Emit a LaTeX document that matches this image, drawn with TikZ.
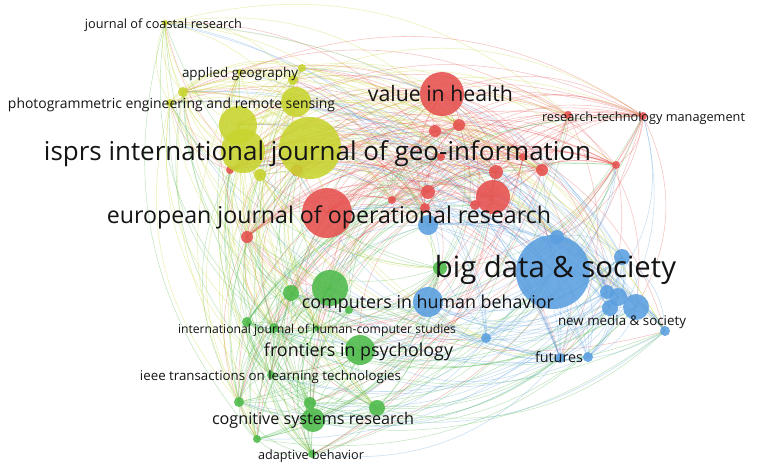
\documentclass[tikz,border=0pt]{standalone}
\usepackage{fontspec}
\setmainfont{Open Sans}
\usepackage{graphicx}
\definecolor{cy}{HTML}{C8D42E}
\definecolor{cr}{HTML}{E6504E}
\definecolor{cb}{HTML}{5A9FE0}
\definecolor{cg}{HTML}{4DBA4A}
\definecolor{txt}{HTML}{141414}
\pgfdeclarelayer{bg}
\pgfsetlayers{bg,main}
\tikzset{
  vnode/.style={circle, inner sep=0pt, fill opacity=0.88, draw=none},
  edge/.style={line width=0.55pt, draw opacity=0.34},
  lbl/.style={inner sep=0pt, text=txt},
}
\def\nodelist{r1/442/94/22/cr, r2/435/131/6/cr, r3/459/125/6/cr, r4/568/115/4/cr, r5/643/116/4/cr, r6/441/157/4/cr, r7/523/157/4/cr, r8/542/170/6/cr, r9/496/172/7/cr, r10/616/165/4/cr, r11/428/192/7/cr, r12/493/197/17/cr, r13/392/200/4/cr, r14/475/205/5/cr, r15/425/208/5/cr, r16/327/213/25/cr, r17/247/237/6/cr, r18/230/170/4/cr, r19/297/170/6/cr,
b1/553/272/37/cb, b2/622/257/8/cb, b3/428/225/10/cb, b4/557/237/7/cb, b5/428/302/15/cb, b6/607/292/7/cb, b7/618/297/9/cb, b8/610/308/8/cb, b9/636/307/13/cb, b10/665/331/5/cb, b11/486/338/5/cb, b12/560/358/5/cb, b13/588/357/5/cb,
g1/330/288/18/cg, g2/291/293/8/cg, g3/349/310/4/cg, g4/247/322/5/cg, g5/274/328/5/cg, g6/360/350/15/cg, g7/271/375/4/cg, g8/239/402/5/cg, g9/310/403/6/cg, g10/377/408/8/cg, g11/313/420/12/cg, g12/257/439/4/cg, g13/312/454/4/cg, g14/440/268/7/cg, g15/317/328/3/cg,
y1/165/23/3/cy, y2/302/68/4/cy, y3/293/80/5/cy, y4/183/92/5/cy, y5/170/103/4/cy, y6/296/102/15/cy, y7/238/125/19/cy, y8/243/151/22/cy, y9/310/148/31/cy, y10/260/175/6/cy, y11/240/72/3/cy}
\begin{document}
\begin{tikzpicture}[x=1pt,y=-1pt]
\begin{pgfonlayer}{bg}
\fill[white] (0,0) rectangle (757,475);
\end{pgfonlayer}
\useasboundingbox (0,0) rectangle (757,475);
% nodes
\foreach \n/\x/\y/\r/\c in \nodelist {
  \pgfmathsetmacro\dd{2*\r}
  \node[vnode, fill=\c, minimum size=\dd pt] (\n) at (\x,\y) {};
}
% edges
\pgfmathsetseed{11}
\begin{pgfonlayer}{bg}
\foreach \na/\xa/\ya/\ra/\ca [count=\i] in \nodelist {
  \foreach \nb/\xb/\yb/\rb/\cb [count=\j] in \nodelist {
    \ifnum\j>\i
      \pgfmathrandominteger{\rnd}{1}{100}
      \ifx\ca\cb \def\thr{82}\else\def\thr{30}\fi
      \ifnum\rnd<\thr
        \ifodd\rnd \let\ec\ca \else \let\ec\cb \fi
        \pgfmathsetmacro\cross{((\xa-420)/20)*((\yb-250)/20)-((\ya-250)/20)*((\xb-420)/20)}
        \ifdim\cross pt>0pt
          \draw[edge, draw=\ec] (\na.center) to[bend left=28] (\nb.center);
        \else
          \draw[edge, draw=\ec] (\na.center) to[bend right=28] (\nb.center);
        \fi
      \fi
    \fi
  }
}
\end{pgfonlayer}
% labels
\foreach \t/\x/\y/\w/\s in {
  t1/163.5/25/157/journal of coastal research,
  t2/240/74/116/applied geography,
  t3/171.5/105/327/photogrammetric engineering and remote sensing,
  t4/440.5/96/145/value in health,
  t5/643.5/118/203/research-technology management,
  t6/317.5/154/547/isprs international journal of geo-information,
  t7/329/217/444/european journal of operational research,
  t8/555.5/270/241/big data \& society,
  t9/428/304/252/computers in human behavior,
  t10/317/330/278/international journal of human-computer studies,
  t11/622/322/128/new media \& society,
  t12/358.5/352/189/frontiers in psychology,
  t13/559/359/48/futures,
  t14/270.5/377/261/ieee transactions on learning technologies,
  t15/313/420/202/cognitive systems research,
  t16/311/456/106/adaptive behavior} {
  \node[lbl] (\t) at (\x,\y) {\resizebox{\w pt}{!}{\s\vphantom{hpg}}};
}
\end{tikzpicture}
\end{document}
